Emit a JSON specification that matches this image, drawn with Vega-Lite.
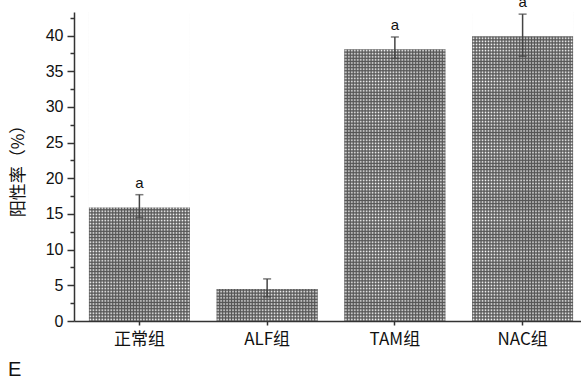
{
  "$schema": "https://vega.github.io/schema/vega-lite/v6.json",
  "width": 514,
  "height": 309,
  "autosize": {"type": "none"},
  "padding": {"left": 74, "top": 12, "right": 0, "bottom": 58},
  "background": "white",
  "config": {
    "view": {"stroke": null},
    "axis": {
      "domainColor": "#333",
      "tickColor": "#333",
      "domainWidth": 1.5,
      "tickWidth": 1.5,
      "labelColor": "#111",
      "titleColor": "#111",
      "grid": false
    }
  },
  "title": {
    "text": "E",
    "orient": "bottom",
    "anchor": "start",
    "frame": "group",
    "dx": -66,
    "offset": 13,
    "fontSize": 20,
    "fontWeight": "normal",
    "font": "Liberation Sans",
    "color": "#111"
  },
  "data": {
    "values": [
      {"group": "正常组", "value": 16.0, "lo": 14.5, "hi": 17.7, "sig": "a"},
      {"group": "ALF组", "value": 4.6, "lo": 3.4, "hi": 5.9, "sig": ""},
      {"group": "TAM组", "value": 38.2, "lo": 36.8, "hi": 39.8, "sig": "a"},
      {"group": "NAC组", "value": 40.0, "lo": 37.1, "hi": 43.0, "sig": "a"}
    ]
  },
  "layer": [
    {
      "mark": {
        "type": "bar",
        "fill": {
          "gradient": "linear", "x1": 0, "y1": 0, "x2": 0, "y2": 1,
          "stops": [
            {"offset":0,"color":"#555"},{"offset":0.005,"color":"#fff"},{"offset":0.01,"color":"#555"},{"offset":0.015,"color":"#fff"},
            {"offset":0.02,"color":"#555"},{"offset":0.025,"color":"#fff"},{"offset":0.03,"color":"#555"},{"offset":0.035,"color":"#fff"},
            {"offset":0.04,"color":"#555"},{"offset":0.045,"color":"#fff"},{"offset":0.05,"color":"#555"},{"offset":0.055,"color":"#fff"},
            {"offset":0.06,"color":"#555"},{"offset":0.065,"color":"#fff"},{"offset":0.07,"color":"#555"},{"offset":0.075,"color":"#fff"},
            {"offset":0.08,"color":"#555"},{"offset":0.085,"color":"#fff"},{"offset":0.09,"color":"#555"},{"offset":0.095,"color":"#fff"},
            {"offset":0.1,"color":"#555"},{"offset":0.105,"color":"#fff"},{"offset":0.11,"color":"#555"},{"offset":0.115,"color":"#fff"},
            {"offset":0.12,"color":"#555"},{"offset":0.125,"color":"#fff"},{"offset":0.13,"color":"#555"},{"offset":0.135,"color":"#fff"},
            {"offset":0.14,"color":"#555"},{"offset":0.145,"color":"#fff"},{"offset":0.15,"color":"#555"},{"offset":0.155,"color":"#fff"},
            {"offset":0.16,"color":"#555"},{"offset":0.165,"color":"#fff"},{"offset":0.17,"color":"#555"},{"offset":0.175,"color":"#fff"},
            {"offset":0.18,"color":"#555"},{"offset":0.185,"color":"#fff"},{"offset":0.19,"color":"#555"},{"offset":0.195,"color":"#fff"},
            {"offset":0.2,"color":"#555"},{"offset":0.205,"color":"#fff"},{"offset":0.21,"color":"#555"},{"offset":0.215,"color":"#fff"},
            {"offset":0.22,"color":"#555"},{"offset":0.225,"color":"#fff"},{"offset":0.23,"color":"#555"},{"offset":0.235,"color":"#fff"},
            {"offset":0.24,"color":"#555"},{"offset":0.245,"color":"#fff"},{"offset":0.25,"color":"#555"},{"offset":0.255,"color":"#fff"},
            {"offset":0.26,"color":"#555"},{"offset":0.265,"color":"#fff"},{"offset":0.27,"color":"#555"},{"offset":0.275,"color":"#fff"},
            {"offset":0.28,"color":"#555"},{"offset":0.285,"color":"#fff"},{"offset":0.29,"color":"#555"},{"offset":0.295,"color":"#fff"},
            {"offset":0.3,"color":"#555"},{"offset":0.305,"color":"#fff"},{"offset":0.31,"color":"#555"},{"offset":0.315,"color":"#fff"},
            {"offset":0.32,"color":"#555"},{"offset":0.325,"color":"#fff"},{"offset":0.33,"color":"#555"},{"offset":0.335,"color":"#fff"},
            {"offset":0.34,"color":"#555"},{"offset":0.345,"color":"#fff"},{"offset":0.35,"color":"#555"},{"offset":0.355,"color":"#fff"},
            {"offset":0.36,"color":"#555"},{"offset":0.365,"color":"#fff"},{"offset":0.37,"color":"#555"},{"offset":0.375,"color":"#fff"},
            {"offset":0.38,"color":"#555"},{"offset":0.385,"color":"#fff"},{"offset":0.39,"color":"#555"},{"offset":0.395,"color":"#fff"},
            {"offset":0.4,"color":"#555"},{"offset":0.405,"color":"#fff"},{"offset":0.41,"color":"#555"},{"offset":0.415,"color":"#fff"},
            {"offset":0.42,"color":"#555"},{"offset":0.425,"color":"#fff"},{"offset":0.43,"color":"#555"},{"offset":0.435,"color":"#fff"},
            {"offset":0.44,"color":"#555"},{"offset":0.445,"color":"#fff"},{"offset":0.45,"color":"#555"},{"offset":0.455,"color":"#fff"},
            {"offset":0.46,"color":"#555"},{"offset":0.465,"color":"#fff"},{"offset":0.47,"color":"#555"},{"offset":0.475,"color":"#fff"},
            {"offset":0.48,"color":"#555"},{"offset":0.485,"color":"#fff"},{"offset":0.49,"color":"#555"},{"offset":0.495,"color":"#fff"},
            {"offset":0.5,"color":"#555"},{"offset":0.505,"color":"#fff"},{"offset":0.51,"color":"#555"},{"offset":0.515,"color":"#fff"},
            {"offset":0.52,"color":"#555"},{"offset":0.525,"color":"#fff"},{"offset":0.53,"color":"#555"},{"offset":0.535,"color":"#fff"},
            {"offset":0.54,"color":"#555"},{"offset":0.545,"color":"#fff"},{"offset":0.55,"color":"#555"},{"offset":0.555,"color":"#fff"},
            {"offset":0.56,"color":"#555"},{"offset":0.565,"color":"#fff"},{"offset":0.57,"color":"#555"},{"offset":0.575,"color":"#fff"},
            {"offset":0.58,"color":"#555"},{"offset":0.585,"color":"#fff"},{"offset":0.59,"color":"#555"},{"offset":0.595,"color":"#fff"},
            {"offset":0.6,"color":"#555"},{"offset":0.605,"color":"#fff"},{"offset":0.61,"color":"#555"},{"offset":0.615,"color":"#fff"},
            {"offset":0.62,"color":"#555"},{"offset":0.625,"color":"#fff"},{"offset":0.63,"color":"#555"},{"offset":0.635,"color":"#fff"},
            {"offset":0.64,"color":"#555"},{"offset":0.645,"color":"#fff"},{"offset":0.65,"color":"#555"},{"offset":0.655,"color":"#fff"},
            {"offset":0.66,"color":"#555"},{"offset":0.665,"color":"#fff"},{"offset":0.67,"color":"#555"},{"offset":0.675,"color":"#fff"},
            {"offset":0.68,"color":"#555"},{"offset":0.685,"color":"#fff"},{"offset":0.69,"color":"#555"},{"offset":0.695,"color":"#fff"},
            {"offset":0.7,"color":"#555"},{"offset":0.705,"color":"#fff"},{"offset":0.71,"color":"#555"},{"offset":0.715,"color":"#fff"},
            {"offset":0.72,"color":"#555"},{"offset":0.725,"color":"#fff"},{"offset":0.73,"color":"#555"},{"offset":0.735,"color":"#fff"},
            {"offset":0.74,"color":"#555"},{"offset":0.745,"color":"#fff"},{"offset":0.75,"color":"#555"},{"offset":0.755,"color":"#fff"},
            {"offset":0.76,"color":"#555"},{"offset":0.765,"color":"#fff"},{"offset":0.77,"color":"#555"},{"offset":0.775,"color":"#fff"},
            {"offset":0.78,"color":"#555"},{"offset":0.785,"color":"#fff"},{"offset":0.79,"color":"#555"},{"offset":0.795,"color":"#fff"},
            {"offset":0.8,"color":"#555"},{"offset":0.805,"color":"#fff"},{"offset":0.81,"color":"#555"},{"offset":0.815,"color":"#fff"},
            {"offset":0.82,"color":"#555"},{"offset":0.825,"color":"#fff"},{"offset":0.83,"color":"#555"},{"offset":0.835,"color":"#fff"},
            {"offset":0.84,"color":"#555"},{"offset":0.845,"color":"#fff"},{"offset":0.85,"color":"#555"},{"offset":0.855,"color":"#fff"},
            {"offset":0.86,"color":"#555"},{"offset":0.865,"color":"#fff"},{"offset":0.87,"color":"#555"},{"offset":0.875,"color":"#fff"},
            {"offset":0.88,"color":"#555"},{"offset":0.885,"color":"#fff"},{"offset":0.89,"color":"#555"},{"offset":0.895,"color":"#fff"},
            {"offset":0.9,"color":"#555"},{"offset":0.905,"color":"#fff"},{"offset":0.91,"color":"#555"},{"offset":0.915,"color":"#fff"},
            {"offset":0.92,"color":"#555"},{"offset":0.925,"color":"#fff"},{"offset":0.93,"color":"#555"},{"offset":0.935,"color":"#fff"},
            {"offset":0.94,"color":"#555"},{"offset":0.945,"color":"#fff"},{"offset":0.95,"color":"#555"},{"offset":0.955,"color":"#fff"},
            {"offset":0.96,"color":"#555"},{"offset":0.965,"color":"#fff"},{"offset":0.97,"color":"#555"},{"offset":0.975,"color":"#fff"},
            {"offset":0.98,"color":"#555"},{"offset":0.985,"color":"#fff"},{"offset":0.99,"color":"#555"},{"offset":0.995,"color":"#fff"},
            {"offset":1,"color":"#555"}
          ]
        }
      },
      "encoding": {
        "x": {
          "field": "group", "type": "nominal", "sort": null,
          "scale": {"paddingInner": 0.21, "paddingOuter": 0.117},
          "axis": {
            "title": null, "labelAngle": 0, "labelFont": "Noto Sans CJK SC",
            "labelFontSize": 17, "labelPadding": 6, "tickSize": 4
          }
        },
        "y": {
          "datum": 43.3, "type": "quantitative",
          "scale": {"domain": [0, 43.3], "nice": false},
          "axis": {
            "title": "阳性率（%）", "titleFont": "Noto Sans CJK SC", "titleFontSize": 17,
            "titleFontWeight": "normal", "titlePadding": 18,
            "values": [0, 5, 10, 15, 20, 25, 30, 35, 40],
            "labelFont": "Liberation Sans", "labelFontSize": 16, "labelPadding": 4, "tickSize": 7
          }
        }
      }
    },
    {
      "mark": {
        "type": "bar",
        "fill": {
          "gradient": "linear", "x1": 0, "y1": 0, "x2": 1, "y2": 0,
          "stops": [
            {"offset":0,"color":"rgba(85,85,85,1)"},{"offset":0.0147,"color":"rgba(85,85,85,0)"},
            {"offset":0.0294,"color":"rgba(85,85,85,1)"},{"offset":0.0441,"color":"rgba(85,85,85,0)"},
            {"offset":0.0588,"color":"rgba(85,85,85,1)"},{"offset":0.0735,"color":"rgba(85,85,85,0)"},
            {"offset":0.0882,"color":"rgba(85,85,85,1)"},{"offset":0.1029,"color":"rgba(85,85,85,0)"},
            {"offset":0.1176,"color":"rgba(85,85,85,1)"},{"offset":0.1324,"color":"rgba(85,85,85,0)"},
            {"offset":0.1471,"color":"rgba(85,85,85,1)"},{"offset":0.1618,"color":"rgba(85,85,85,0)"},
            {"offset":0.1765,"color":"rgba(85,85,85,1)"},{"offset":0.1912,"color":"rgba(85,85,85,0)"},
            {"offset":0.2059,"color":"rgba(85,85,85,1)"},{"offset":0.2206,"color":"rgba(85,85,85,0)"},
            {"offset":0.2353,"color":"rgba(85,85,85,1)"},{"offset":0.25,"color":"rgba(85,85,85,0)"},
            {"offset":0.2647,"color":"rgba(85,85,85,1)"},{"offset":0.2794,"color":"rgba(85,85,85,0)"},
            {"offset":0.2941,"color":"rgba(85,85,85,1)"},{"offset":0.3088,"color":"rgba(85,85,85,0)"},
            {"offset":0.3235,"color":"rgba(85,85,85,1)"},{"offset":0.3382,"color":"rgba(85,85,85,0)"},
            {"offset":0.3529,"color":"rgba(85,85,85,1)"},{"offset":0.3676,"color":"rgba(85,85,85,0)"},
            {"offset":0.3824,"color":"rgba(85,85,85,1)"},{"offset":0.3971,"color":"rgba(85,85,85,0)"},
            {"offset":0.4118,"color":"rgba(85,85,85,1)"},{"offset":0.4265,"color":"rgba(85,85,85,0)"},
            {"offset":0.4412,"color":"rgba(85,85,85,1)"},{"offset":0.4559,"color":"rgba(85,85,85,0)"},
            {"offset":0.4706,"color":"rgba(85,85,85,1)"},{"offset":0.4853,"color":"rgba(85,85,85,0)"},
            {"offset":0.5,"color":"rgba(85,85,85,1)"},{"offset":0.5147,"color":"rgba(85,85,85,0)"},
            {"offset":0.5294,"color":"rgba(85,85,85,1)"},{"offset":0.5441,"color":"rgba(85,85,85,0)"},
            {"offset":0.5588,"color":"rgba(85,85,85,1)"},{"offset":0.5735,"color":"rgba(85,85,85,0)"},
            {"offset":0.5882,"color":"rgba(85,85,85,1)"},{"offset":0.6029,"color":"rgba(85,85,85,0)"},
            {"offset":0.6176,"color":"rgba(85,85,85,1)"},{"offset":0.6324,"color":"rgba(85,85,85,0)"},
            {"offset":0.6471,"color":"rgba(85,85,85,1)"},{"offset":0.6618,"color":"rgba(85,85,85,0)"},
            {"offset":0.6765,"color":"rgba(85,85,85,1)"},{"offset":0.6912,"color":"rgba(85,85,85,0)"},
            {"offset":0.7059,"color":"rgba(85,85,85,1)"},{"offset":0.7206,"color":"rgba(85,85,85,0)"},
            {"offset":0.7353,"color":"rgba(85,85,85,1)"},{"offset":0.75,"color":"rgba(85,85,85,0)"},
            {"offset":0.7647,"color":"rgba(85,85,85,1)"},{"offset":0.7794,"color":"rgba(85,85,85,0)"},
            {"offset":0.7941,"color":"rgba(85,85,85,1)"},{"offset":0.8088,"color":"rgba(85,85,85,0)"},
            {"offset":0.8235,"color":"rgba(85,85,85,1)"},{"offset":0.8382,"color":"rgba(85,85,85,0)"},
            {"offset":0.8529,"color":"rgba(85,85,85,1)"},{"offset":0.8676,"color":"rgba(85,85,85,0)"},
            {"offset":0.8824,"color":"rgba(85,85,85,1)"},{"offset":0.8971,"color":"rgba(85,85,85,0)"},
            {"offset":0.9118,"color":"rgba(85,85,85,1)"},{"offset":0.9265,"color":"rgba(85,85,85,0)"},
            {"offset":0.9412,"color":"rgba(85,85,85,1)"},{"offset":0.9559,"color":"rgba(85,85,85,0)"},
            {"offset":0.9706,"color":"rgba(85,85,85,1)"},{"offset":0.9853,"color":"rgba(85,85,85,0)"},
            {"offset":1,"color":"rgba(85,85,85,1)"}
          ]
        }
      },
      "encoding": {
        "x": {"field": "group", "type": "nominal", "sort": null, "axis": null},
        "y": {"datum": 43.3, "type": "quantitative", "axis": null}
      }
    },
    {
      "mark": {"type": "bar", "fill": "white", "stroke": "white", "strokeWidth": 1.5},
      "encoding": {
        "x": {"field": "group", "type": "nominal", "sort": null, "axis": null},
        "y": {
          "field": "value", "type": "quantitative",
          "axis": {
            "orient": "left", "title": null, "labels": false, "domain": false, "tickSize": 4,
            "values": [2.5, 7.5, 12.5, 17.5, 22.5, 27.5, 32.5, 37.5, 42.5]
          }
        },
        "y2": {"datum": 43.3}
      }
    },
    {
      "mark": {
        "type": "errorbar",
        "color": "#444",
        "rule": {"strokeWidth": 1.5},
        "ticks": {"size": 8, "thickness": 1.5}
      },
      "encoding": {
        "x": {"field": "group", "type": "nominal", "sort": null, "axis": null},
        "y": {"field": "lo", "type": "quantitative", "axis": null},
        "y2": {"field": "hi"}
      }
    },
    {
      "mark": {
        "type": "text",
        "font": "Liberation Sans",
        "fontSize": 15,
        "color": "#111",
        "baseline": "alphabetic",
        "dy": -7
      },
      "encoding": {
        "x": {"field": "group", "type": "nominal", "sort": null, "axis": null},
        "y": {"field": "hi", "type": "quantitative", "axis": null},
        "text": {"field": "sig"}
      }
    }
  ],
  "resolve": {"axis": {"x": "independent", "y": "independent"}}
}
